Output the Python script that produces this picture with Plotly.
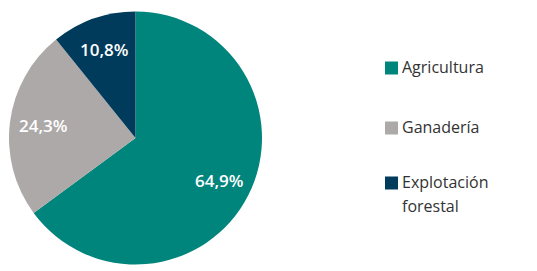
import math
import plotly.graph_objects as go

labels = ["Agricultura", "Ganadería", "Explotación forestal"]
legend_lines = [["Agricultura"], ["Ganadería"], ["Explotación", "forestal"]]
values = [64.9, 24.3, 10.8]
colors = ["#00857D", "#ADA9A8", "#003B5C"]

W, H = 537, 271
# pie geometry (pixels)
PX0, PX1, PY0, PY1 = 9, 262, 11.5, 264.5
CX, CY, R = (PX0 + PX1) / 2, (PY0 + PY1) / 2, (PX1 - PX0) / 2
LABEL_R = 0.74

fig = go.Figure()
fig.add_trace(go.Pie(
    labels=labels,
    values=values,
    sort=False,
    direction="clockwise",
    rotation=0,
    marker=dict(colors=colors, line=dict(width=0)),
    textinfo="none",
    domain=dict(x=[PX0 / W, PX1 / W], y=[1 - PY1 / H, 1 - PY0 / H]),
    showlegend=False,
    hoverinfo="label+percent",
))

# slice percentage labels, placed along each slice's mid-angle
total = sum(values)
cum = 0.0
for v in values:
    mid = (cum + v / 2) / total * 2 * math.pi
    cum += v
    px = CX + LABEL_R * R * math.sin(mid)
    py = CY - LABEL_R * R * math.cos(mid)
    txt = f"{v / total * 100:.1f}%".replace(".", ",")
    fig.add_annotation(xref="paper", yref="paper", x=px / W, y=1 - py / H,
                       xanchor="center", yanchor="middle", showarrow=False,
                       text=txt,
                       font=dict(family="Open Sans", size=17, color="white", weight=600))

# manual legend (pixel positions converted to paper coords)
legend_y = [68, 128, 183]
LINE_GAP = 23.7
for lines, col, yc in zip(legend_lines, colors, legend_y):
    fig.add_shape(type="rect", xref="paper", yref="paper",
                  x0=385 / W, x1=398 / W, y0=1 - (yc + 6.5) / H, y1=1 - (yc - 6.5) / H,
                  fillcolor=col, line=dict(width=0))
    for i, line in enumerate(lines):
        fig.add_annotation(xref="paper", yref="paper", x=400 / W,
                           y=1 - (yc - 14 + i * LINE_GAP) / H,
                           xanchor="left", yanchor="top", align="left", showarrow=False,
                           text=line, font=dict(family="Open Sans", size=16, color="#333333"))

fig.update_layout(
    width=W, height=H,
    margin=dict(l=0, r=0, t=0, b=0),
    paper_bgcolor="white", plot_bgcolor="white",
    separators=",.",
    showlegend=False,
)
fig.write_html("out.html")
